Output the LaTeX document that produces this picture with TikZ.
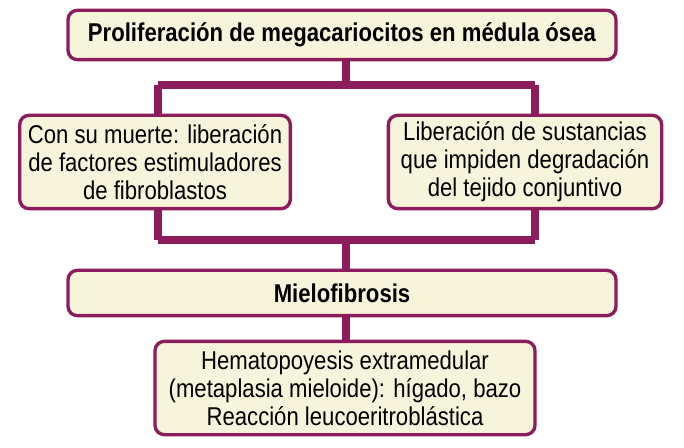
\documentclass[tikz,border=0pt]{standalone}
\usepackage{fontspec}
\setmainfont[FakeStretch=0.86]{Liberation Sans}
\definecolor{borde}{RGB}{140,28,92}
\definecolor{fondo}{RGB}{246,244,218}
\tikzset{every picture/.style={line width=0.75pt}}
\tikzset{caja/.style={draw=borde,fill=fondo,line width=2.5pt,rounded corners=7pt,align=center,inner sep=0pt,font=\fontsize{19.3}{21}\selectfont},
  barra/.style={draw=borde,line width=6.5pt}}
\begin{document}
\begin{tikzpicture}[x=0.75pt,y=0.75pt,yscale=-1,xscale=1]
    \path[use as bounding box] (0,0) rectangle (684,448);

    % Connectors (behind boxes)
    \coordinate (tc) at (346,85);
    \coordinate (tl) at (158,85);
    \coordinate (tr) at (535,85);
    \coordinate (bc) at (346,240);
    \coordinate (bl) at (158,240);
    \coordinate (br) at (535,240);
    \draw[barra] (346,35) -- (tc);
    \draw[barra] (tl) -- (tr);
    \draw[barra] (tl) -- (bl);
    \draw[barra] (tr) -- (br);
    \draw[barra] (bl) -- (br);
    \draw[barra] (bc) -- (346,390);

    % Boxes
    \node[caja,minimum width=411pt,minimum height=37pt] (prolif) at (342,35) {\textbf{Proliferación de megacariocitos en médula ósea}};
    \node[caja,minimum width=203pt,minimum height=70pt] (muerte) at (155,162) {Con su muerte: liberación\\de factores estimuladores\\de fibroblastos};
    \node[caja,minimum width=205pt,minimum height=70pt] (sustancias) at (525,162) {Liberación de sustancias\\que impiden degradación\\del tejido conjuntivo};
    \node[caja,minimum width=411pt,minimum height=34pt] (mielo) at (342,293) {\textbf{Mielofibrosis}};
    \node[caja,minimum width=285pt,minimum height=70pt] (hemato) at (345,388) {Hematopoyesis extramedular\\(metaplasia mieloide): hígado, bazo\\Reacción leucoeritroblástica};
\end{tikzpicture}
\end{document}
